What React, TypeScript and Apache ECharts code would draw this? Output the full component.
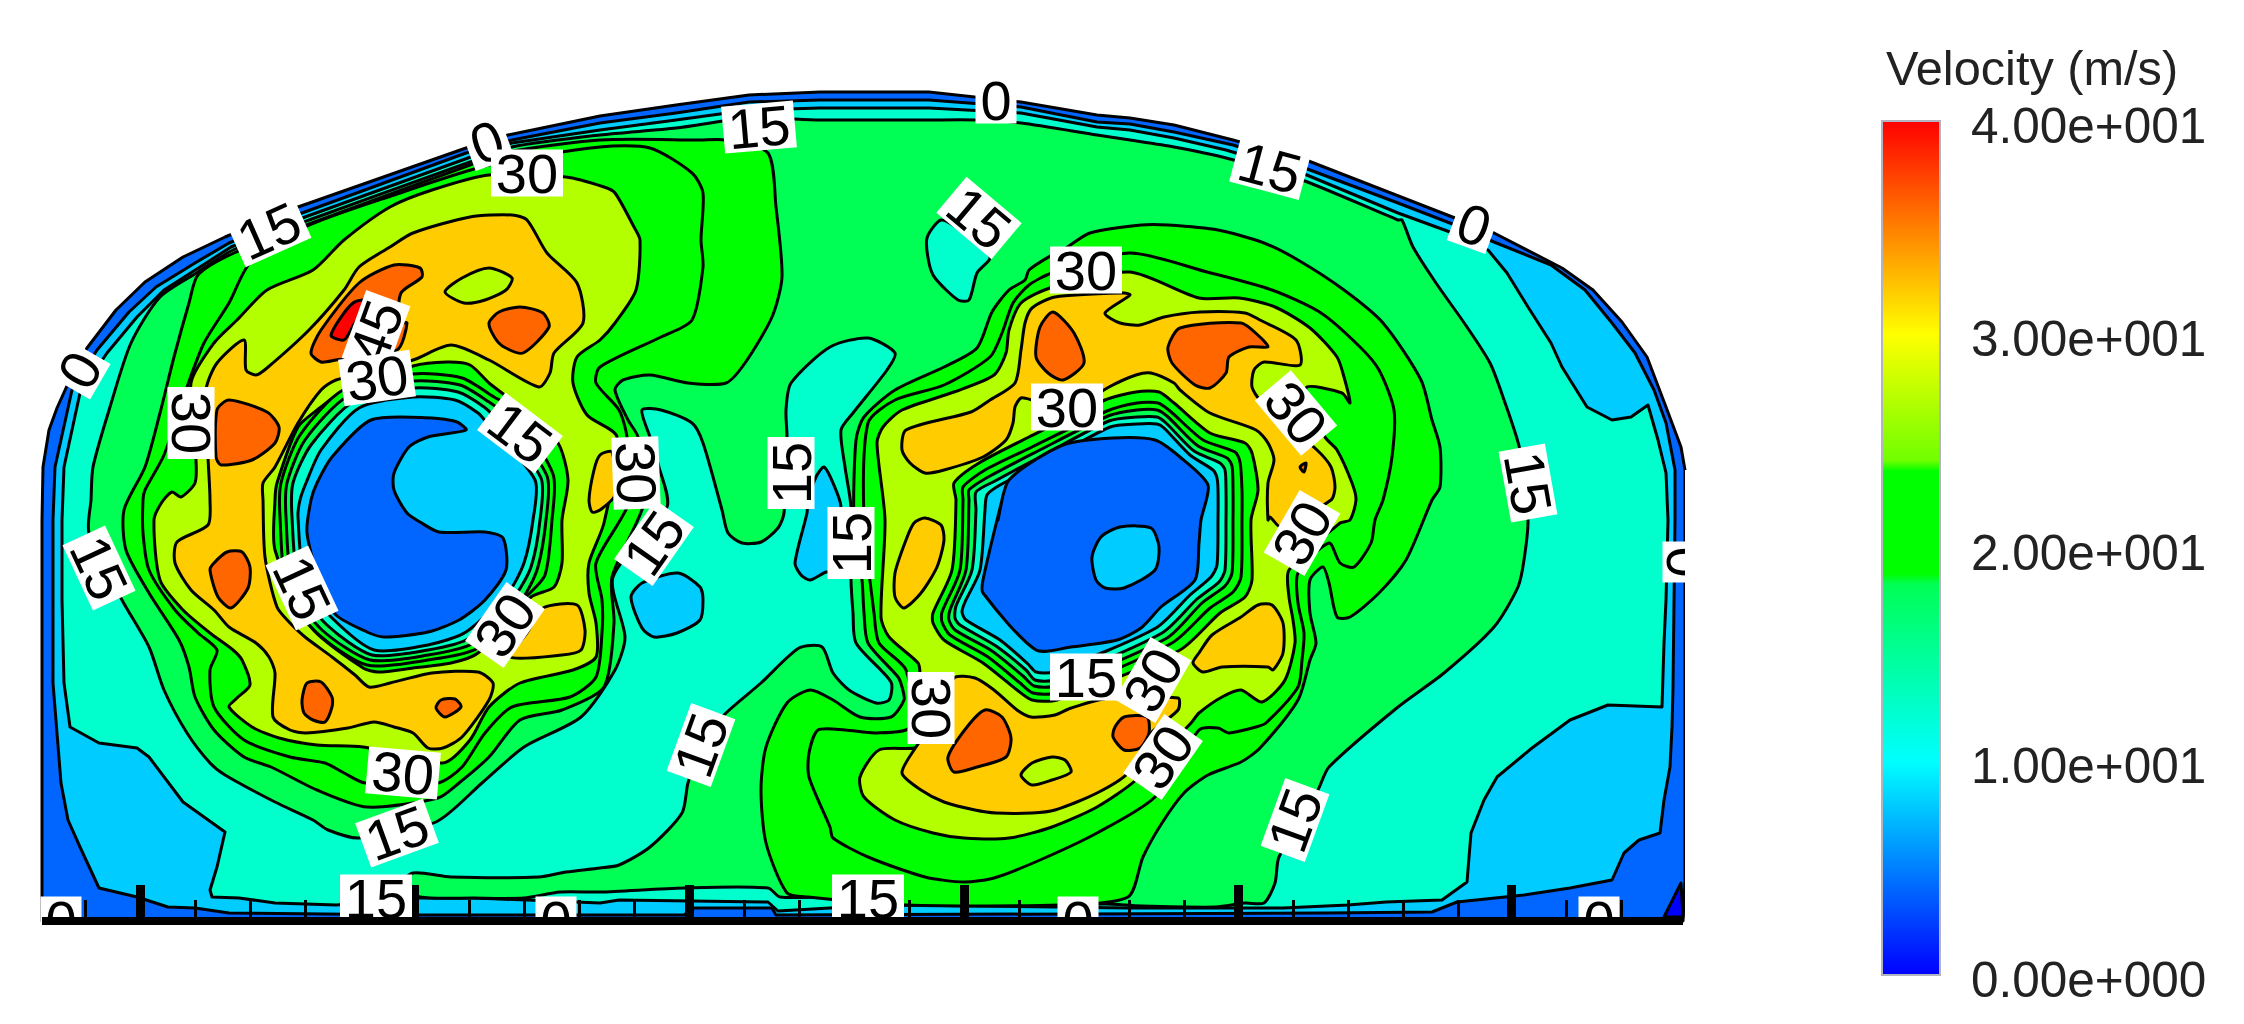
import React, { useEffect, useRef } from "react";
import * as echarts from "echarts";

type Pt = [number, number];

const bandColors = ["#0000ff", "#0066ff", "#00ccff", "#00ffcc", "#00ff55", "#00ff00", "#b3ff00", "#ffcc00", "#ff6600", "#ff0000"];

const domainOutline: Pt[] = [[42,921],[42,520],[43,467],[49,430],[57,408],[66,388],[87,348],[116,310],[145,282],[183,257],[225,237],[298,207],[466,148],[508,135],[600,116],[676,105],[749,95],[820,92],[929,92],[1021,102],[1097,115],[1130,118],[1174,125],[1233,140],[1306,160],[1455,218],[1494,233],[1562,268],[1593,290],[1622,322],[1647,357],[1666,407],[1681,447],[1685,470],[1685,882],[1683,921]];
const cornerPocket: Pt[] = [[1664,917],[1681,883],[1683,917]];
const level5: Pt[] = [[99,888],[80,847],[68,820],[61,783],[57,733],[53,683],[53,520],[55,467],[72,390],[97,350],[129,312],[156,287],[195,263],[229,243],[302,213],[466,153],[512,140],[600,123],[676,113],[749,102],[820,100],[929,100],[1021,107],[1097,122],[1130,124],[1174,132],[1233,145],[1302,167],[1398,203],[1455,225],[1494,242],[1551,265],[1585,290],[1612,323],[1635,353],[1654,390],[1666,423],[1675,470],[1675,520],[1673,687],[1672,727],[1670,767],[1664,800],[1660,833],[1639,840],[1624,853],[1612,880],[1570,888],[1524,895],[1457,902],[1432,912],[1327,913],[776,915],[772,908],[694,908],[684,915],[600,915],[420,915],[229,913],[195,908],[168,907],[137,897]];
const level10: Pt[] = [[212,897],[210,890],[217,867],[225,832],[183,802],[149,757],[137,748],[99,743],[70,727],[64,683],[62,600],[62,520],[64,467],[80,393],[107,353],[137,317],[164,290],[200,267],[231,247],[305,217],[468,158],[512,143],[600,130],[676,120],[749,110],[820,108],[929,108],[1021,113],[1097,127],[1130,130],[1174,138],[1226,150],[1302,173],[1398,213],[1450,232],[1488,250],[1507,273],[1528,307],[1551,343],[1562,367],[1587,407],[1612,420],[1631,417],[1648,405],[1658,440],[1666,473],[1668,520],[1666,600],[1664,643],[1662,707],[1608,705],[1570,720],[1532,748],[1497,777],[1484,800],[1471,833],[1467,882],[1442,900],[1386,902],[1348,905],[1283,908],[1130,908],[910,905],[830,908],[778,911],[768,902],[619,900],[600,903],[475,898],[418,898],[336,905],[275,903],[239,898]];
const level15: Pt[] = [[359,838],[328,830],[313,820],[275,802],[225,775],[210,763],[187,733],[164,690],[149,647],[122,600],[89,533],[91,500],[93,467],[110,407],[131,343],[160,297],[198,272],[233,250],[309,220],[470,162],[512,147],[600,135],[676,128],[749,118],[820,120],[929,120],[975,120],[1021,123],[1097,135],[1130,140],[1174,147],[1226,158],[1302,180],[1398,220],[1402,220],[1413,247],[1436,283],[1467,327],[1490,363],[1503,397],[1520,450],[1528,520],[1524,560],[1518,587],[1494,627],[1444,673],[1398,707],[1329,767],[1318,790],[1279,857],[1275,883],[1264,903],[1245,903],[1216,907],[1141,906],[1105,904],[1059,905],[910,904],[830,897],[780,897],[768,888],[684,888],[600,892],[560,892],[524,898],[474,898],[420,897],[400,885],[413,873],[451,877],[539,877],[566,872],[600,868],[619,865],[650,847],[682,813],[688,783],[703,740],[726,713],[761,683],[799,648],[822,647],[833,673],[849,690],[876,703],[889,700],[891,682],[856,643],[853,613],[851,580],[851,507],[845,467],[841,430],[853,413],[887,370],[895,353],[868,338],[830,347],[791,383],[786,410],[787,437],[784,513],[778,528],[761,542],[742,543],[728,533],[722,510],[703,443],[692,423],[661,410],[642,410],[650,437],[659,467],[667,507],[613,577],[625,637],[615,670],[581,717],[524,747],[482,783],[436,822]];
const tealPocket: Pt[] = [[941,220],[927,238],[929,263],[935,278],[958,300],[969,300],[977,273],[990,257],[960,230]];
const cyanPocketA: Pt[] = [[631,597],[642,583],[678,573],[700,587],[703,600],[700,620],[677,633],[654,637],[642,628]];
const cyanPocketB: Pt[] = [[824,467],[833,483],[841,507],[835,572],[826,572],[810,580],[801,575],[795,563],[807,513],[808,500],[816,477]];

const level20Left: Pt[] = [[367,807],[317,790],[271,767],[244,757],[214,730],[195,697],[189,667],[179,640],[149,593],[126,550],[124,510],[145,467],[160,413],[174,357],[189,303],[198,275],[234,253],[309,224],[470,165],[508,152],[600,140],[700,140],[726,140],[768,153],[776,207],[782,277],[772,317],[745,363],[726,383],[688,383],[650,375],[623,380],[615,390],[628,420],[638,437],[645,500],[612,577],[614,623],[604,687],[562,710],[520,720],[489,757],[459,783],[438,798]];
const level20Right: Pt[] = [[1052,255],[1029,270],[1025,280],[1009,290],[992,312],[977,348],[944,367],[895,390],[864,417],[856,440],[854,520],[862,580],[864,613],[868,643],[898,677],[902,687],[904,700],[891,717],[860,717],[833,700],[810,690],[787,703],[766,747],[761,790],[766,843],[787,893],[808,897],[906,905],[1059,905],[1128,897],[1143,857],[1162,823],[1184,793],[1208,775],[1241,762],[1260,748],[1298,700],[1310,660],[1316,643],[1310,613],[1310,580],[1323,567],[1329,583],[1337,617],[1350,617],[1379,593],[1406,560],[1432,500],[1440,487],[1440,447],[1432,420],[1421,380],[1383,323],[1344,290],[1298,260],[1264,243],[1218,230],[1168,225],[1141,225],[1090,233],[1063,250]];
const level25Left: Pt[] = [[365,783],[344,773],[325,763],[290,757],[244,740],[214,707],[210,670],[217,650],[198,633],[175,610],[149,570],[143,533],[143,500],[145,490],[164,455],[187,387],[204,343],[229,303],[250,263],[305,227],[394,195],[489,165],[600,147],[650,148],[692,173],[703,193],[701,240],[703,267],[692,320],[661,337],[600,367],[596,383],[619,410],[627,437],[630,500],[596,563],[602,600],[602,633],[596,677],[570,697],[512,707],[485,733],[462,767],[438,783]];
const level25Right: Pt[] = [[1052,273],[1029,285],[1013,303],[1002,333],[990,357],[944,385],[895,400],[868,423],[864,520],[874,613],[879,643],[906,670],[910,727],[876,733],[845,730],[818,730],[809,753],[809,777],[830,827],[833,838],[868,857],[925,877],[964,882],[994,878],[1040,860],[1097,833],[1155,797],[1199,730],[1218,728],[1229,733],[1256,727],[1266,723],[1298,687],[1302,660],[1304,633],[1298,603],[1298,573],[1329,543],[1340,563],[1354,567],[1371,543],[1375,520],[1383,500],[1392,457],[1394,410],[1379,370],[1360,347],[1321,313],[1272,290],[1207,272],[1130,253]];
const level30Left: Pt[] = [[363,747],[317,745],[279,738],[252,727],[229,707],[237,698],[250,685],[242,660],[233,650],[210,633],[183,610],[160,580],[154,520],[162,502],[172,492],[181,497],[195,483],[196,460],[191,383],[214,343],[237,320],[267,290],[313,270],[344,240],[390,207],[432,190],[489,175],[566,177],[604,187],[615,193],[634,227],[640,240],[636,290],[615,323],[600,340],[577,357],[573,383],[587,415],[617,437],[604,523],[589,563],[589,593],[596,623],[596,657],[573,670],[520,683],[489,707],[470,740],[443,763]];
const level30Right: Pt[] = [[1053,287],[1021,303],[1009,330],[1006,353],[994,375],[954,392],[902,410],[883,427],[877,443],[885,520],[881,617],[889,637],[918,663],[920,673],[923,745],[879,750],[860,777],[864,797],[895,820],[933,833],[964,838],[1009,838],[1052,827],[1097,807],[1136,780],[1191,723],[1199,713],[1222,697],[1241,690],[1262,702],[1285,680],[1295,643],[1293,620],[1289,597],[1289,570],[1340,523],[1350,520],[1356,500],[1352,483],[1337,450],[1325,437],[1306,388],[1342,393],[1350,403],[1344,377],[1337,357],[1310,328],[1275,307],[1239,298],[1199,298],[1130,272]];
const level35Left: Pt[] = [[206,390],[217,363],[244,340],[246,370],[256,375],[267,368],[309,330],[344,290],[359,267],[390,247],[413,233],[470,217],[512,215],[527,220],[547,253],[577,283],[583,323],[554,353],[550,373],[539,387],[489,360],[451,345],[413,360],[336,380],[321,390],[298,423],[275,467],[263,483],[263,500],[265,557],[277,607],[290,623],[305,637],[332,657],[355,675],[369,687],[390,683],[432,673],[478,672],[493,683],[489,700],[462,737],[443,748],[428,748],[413,733],[394,727],[374,722],[348,728],[306,733],[290,730],[273,717],[275,673],[269,657],[256,643],[229,627],[214,610],[191,590],[175,563],[177,542],[208,525],[210,500],[208,457]];
const level35LeftB: Pt[] = [[543,608],[577,605],[585,630],[581,650],[562,655],[510,657],[527,633]];
const level35LeftC: Pt[] = [[589,500],[594,470],[600,455],[612,452],[615,495],[600,510],[592,512]];
const level35RightTop: Pt[] = [[1055,297],[1032,308],[1025,323],[1021,350],[1015,383],[990,400],[971,412],[906,430],[902,450],[910,463],[925,473],[944,470],[983,457],[1006,440],[1013,423],[1015,407],[1021,398],[1032,400],[1070,410],[1109,387],[1136,375],[1151,373],[1174,383],[1180,390],[1210,413],[1256,430],[1268,443],[1274,460],[1268,483],[1268,520],[1270,517],[1281,527],[1331,500],[1335,487],[1331,467],[1317,450],[1260,400],[1252,387],[1254,370],[1264,362],[1300,365],[1296,340],[1260,320],[1245,313],[1200,312],[1164,317],[1140,325],[1120,323],[1105,313],[1130,295],[1124,293]];
const level35RightBottom: Pt[] = [[954,678],[975,678],[994,690],[1017,710],[1031,717],[1055,715],[1071,708],[1109,698],[1178,698],[1178,710],[1151,733],[1128,773],[1097,793],[1055,810],[1032,813],[996,813],[975,810],[944,802],[921,790],[902,773],[916,747],[935,720]];
const level35RightC: Pt[] = [[925,518],[941,525],[944,540],[937,567],[921,593],[904,608],[895,597],[895,573],[906,540],[914,523]];
const level35RightD: Pt[] = [[1258,605],[1272,605],[1283,623],[1283,653],[1273,670],[1268,667],[1222,667],[1203,672],[1193,663],[1199,653],[1212,635],[1241,617]];
const limeIslandLeft: Pt[] = [[445,292],[462,278],[489,268],[512,278],[506,290],[485,300],[464,303]];
const limeIslandRight: Pt[] = [[1021,775],[1032,763],[1052,757],[1065,760],[1071,772],[1052,780],[1032,785]];
const peakA: Pt[] = [[311,353],[321,330],[359,283],[394,265],[420,268],[422,277],[401,293],[399,323],[407,323],[397,350],[336,360],[321,362]];
const peakB: Pt[] = [[489,323],[499,312],[520,307],[543,313],[549,327],[523,353],[504,347],[495,338]];
const peakC: Pt[] = [[217,410],[229,400],[267,412],[279,427],[275,443],[252,460],[221,465],[216,457]];
const peakD: Pt[] = [[210,570],[214,563],[227,552],[242,552],[250,567],[248,588],[231,608],[218,597]];
const peakE: Pt[] = [[302,700],[307,683],[321,682],[332,697],[332,707],[325,722],[313,720],[304,713]];
const peakF: Pt[] = [[436,708],[441,700],[455,699],[461,707],[445,717]];
const peakG: Pt[] = [[1053,312],[1074,333],[1084,363],[1063,380],[1048,373],[1036,357],[1040,327]];
const peakH: Pt[] = [[1180,328],[1241,323],[1260,337],[1268,347],[1249,347],[1229,357],[1226,373],[1210,388],[1195,385],[1172,363],[1168,347]];
const peakI: Pt[] = [[985,710],[1002,717],[1011,738],[1006,757],[977,767],[954,772],[948,757],[967,727]];
const peakJ: Pt[] = [[1115,727],[1124,717],[1147,717],[1149,733],[1140,748],[1124,750],[1113,737]];
const peakK: Pt[] = [[1300,467],[1306,463],[1304,472]];
const summit: Pt[] = [[331,335],[353,303],[375,300],[355,323],[344,340]];

const holeLeft30: Pt[] = [[275,500],[277,483],[298,427],[321,407],[340,393],[413,366],[447,362],[470,365],[489,383],[524,410],[558,443],[568,480],[562,520],[562,563],[554,587],[531,597],[478,653],[451,663],[413,668],[378,672],[363,668],[311,627],[275,550]];
const holeLeft25: Pt[] = [[281,483],[300,435],[343,390],[413,374],[462,378],[494,397],[510,407],[553,474],[552,520],[545,575],[526,597],[478,648],[428,660],[367,665],[317,633],[287,592],[280,517]];
const holeLeft20: Pt[] = [[287,483],[305,440],[348,396],[413,381],[460,385],[489,402],[503,413],[547,476],[546,520],[537,570],[520,602],[474,643],[428,655],[370,660],[322,630],[293,590],[286,517]];
const holeLeft15: Pt[] = [[293,483],[311,445],[353,402],[413,388],[458,392],[484,407],[497,420],[541,478],[540,520],[531,567],[514,597],[470,638],[428,650],[372,655],[327,625],[299,586],[292,517]];
const holeLeft10: Pt[] = [[306,483],[321,450],[359,408],[413,397],[455,400],[478,413],[487,423],[535,480],[533,520],[524,563],[508,593],[466,632],[428,645],[374,650],[332,618],[305,583],[298,517],[300,500]];
const holeLeft5: Pt[] = [[371,420],[432,418],[457,422],[466,430],[428,437],[409,447],[394,473],[394,490],[407,513],[420,522],[439,532],[485,532],[503,538],[506,570],[485,600],[459,620],[428,632],[384,637],[367,632],[336,615],[321,587],[307,533],[311,500],[317,483],[332,457]];
const holeRight30: Pt[] = [[954,483],[979,463],[1029,437],[1105,400],[1136,392],[1159,392],[1174,403],[1210,433],[1245,443],[1252,453],[1258,490],[1251,520],[1252,580],[1245,597],[1220,613],[1180,650],[1057,700],[1032,700],[1017,690],[983,663],[944,640],[933,623],[933,613],[952,570],[956,500]];
const holeRight25: Pt[] = [[963,487],[985,470],[1032,447],[1107,411],[1137,403],[1158,403],[1170,411],[1203,440],[1235,452],[1240,462],[1242,490],[1242,520],[1241,577],[1233,592],[1210,608],[1172,643],[1056,693],[1033,693],[1020,683],[988,657],[950,635],[942,622],[942,612],[960,570],[963,500]];
const holeRight20: Pt[] = [[969,490],[990,476],[1036,452],[1108,416],[1137,410],[1157,410],[1168,417],[1198,446],[1227,458],[1232,466],[1233,490],[1233,520],[1232,573],[1225,586],[1202,603],[1167,638],[1055,686],[1034,686],[1023,676],[992,651],[955,630],[949,620],[950,610],[966,570],[969,500]];
const holeRight15: Pt[] = [[976,492],[995,481],[1040,457],[1109,421],[1137,417],[1157,417],[1166,423],[1194,451],[1220,463],[1225,470],[1226,490],[1226,520],[1225,570],[1219,582],[1197,599],[1162,633],[1054,680],[1035,680],[1026,670],[996,646],[960,625],[955,618],[956,606],[972,570],[976,510]];
const holeRight10: Pt[] = [[985,510],[987,495],[1000,485],[1045,462],[1110,427],[1137,424],[1157,424],[1164,428],[1190,455],[1213,470],[1217,478],[1218,490],[1218,520],[1217,565],[1211,577],[1190,595],[1156,628],[1053,672],[1036,672],[1028,664],[1000,640],[966,620],[962,612],[965,602],[980,570]];
const holeRight5: Pt[] = [[998,520],[1009,480],[1063,445],[1113,438],[1155,440],[1180,457],[1208,485],[1201,520],[1199,543],[1195,580],[1161,607],[1141,628],[1117,640],[1071,647],[1036,650],[983,593],[983,580],[1002,500]];
const coreIsland: Pt[] = [[1092,557],[1101,537],[1120,527],[1151,528],[1159,547],[1155,570],[1124,588],[1105,588],[1096,580]];

const layers: [Pt[], number][] = [
  [domainOutline, 1], [cornerPocket, 0], [level5, 2], [level10, 3], [level15, 4],
  [tealPocket, 3], [cyanPocketA, 2], [cyanPocketB, 2],
  [level20Left, 5], [level20Right, 5], [level25Left, 5], [level25Right, 5],
  [level30Left, 6], [level30Right, 6],
  [level35Left, 7], [level35LeftB, 7], [level35LeftC, 7], [level35RightTop, 7], [level35RightBottom, 7], [level35RightC, 7], [level35RightD, 7],
  [limeIslandLeft, 6], [limeIslandRight, 6],
  [peakA, 8], [peakB, 8], [peakC, 8], [peakD, 8], [peakE, 8], [peakF, 8], [peakG, 8], [peakH, 8], [peakI, 8], [peakJ, 8], [peakK, 8],
  [summit, 9],
  [holeLeft30, 5], [holeLeft25, 5], [holeLeft20, 4], [holeLeft15, 3], [holeLeft10, 2], [holeLeft5, 1],
  [holeRight30, 5], [holeRight25, 5], [holeRight20, 4], [holeRight15, 3], [holeRight10, 2], [holeRight5, 1], [coreIsland, 2],
];
const unroundedLayers = 4;

// text, x, y, clockwise turn in degrees
const contourLabels: [string, number, number, number][] = [
  ["0", 487, 142, -20], ["30", 527, 173, 0], ["15", 269, 231, -24], ["0", 80, 370, -60], ["30", 191, 423, 90],
  ["45", 376, 332, -70], ["30", 377, 378, -8], ["15", 520, 433, 37], ["15", 99, 568, 65], ["15", 302, 588, 65],
  ["30", 505, 625, -55], ["30", 403, 773, 5], ["15", 397, 833, -20], ["15", 376, 898, 0], ["0", 61, 920, 0],
  ["0", 556, 920, 0], ["15", 759, 127, -5], ["0", 996, 100, 0], ["15", 1270, 168, 15], ["0", 1474, 225, 20],
  ["15", 979, 218, 40], ["30", 1086, 270, 0], ["30", 1067, 407, 0], ["30", 1296, 413, 50], ["15", 1528, 483, 80],
  ["30", 1302, 533, -60], ["0", 1686, 562, 90], ["15", 851, 543, -90], ["15", 791, 473, -90], ["15", 654, 543, -55],
  ["30", 636, 473, 88], ["15", 701, 745, -70], ["30", 931, 708, 90], ["15", 868, 898, 0], ["0", 1078, 920, 0],
  ["15", 1086, 677, 0], ["30", 1153, 680, -60], ["30", 1163, 757, -55], ["15", 1295, 820, -70], ["0", 1599, 920, 0],
];

const majorTicks = [140, 414, 689, 964, 1238, 1511];
const minorTicks = [85, 195, 250, 305, 360, 469, 524, 579, 634, 744, 799, 854, 909, 1019, 1074, 1129, 1184, 1293, 1348, 1403, 1458, 1566, 1621];
const colorTickLabels = ["0.00e+000", "1.00e+001", "2.00e+001", "3.00e+001", "4.00e+001"];
const legendStops: [number, string][] = [
  [40, "#ff0000"], [35, "#ff8000"], [30, "#ffff00"], [24.1, "#70ff00"], [23.6, "#00ff00"],
  [18.8, "#00ff00"], [18.3, "#00ff55"], [10, "#00ffff"], [0, "#0000ff"],
];
const maskRects: [number, number, number, number][] = [[0, 925, 1800, 99], [1685, 470, 100, 455]];

const FONT = '"Liberation Sans", Arial, sans-serif';

export default function App() {
  const ref = useRef<HTMLDivElement>(null);
  useEffect(() => {
    document.body.style.margin = "0";
    document.body.style.background = "#fff";
    const chart = echarts.init(ref.current!, undefined, { renderer: "svg" });
    const hidden = { show: false };
    chart.setOption({
      animation: false,
      backgroundColor: "#ffffff",
      title: {
        text: "Velocity (m/s)",
        left: 1881,
        top: 38,
        textStyle: { fontFamily: FONT, fontSize: 48.7, fontWeight: "normal", color: "#222222" },
      },
      grid: [
        { left: 0, top: 0, width: 2244, height: 1024 },
        { left: 42, top: 500, width: 1641, height: 421 },
        { left: 1882, top: 121, width: 58, height: 854 },
        { left: 1882, top: 125, width: 58, height: 854 },
      ],
      xAxis: [
        { type: "value", gridIndex: 0, min: 0, max: 2244, ...hidden },
        {
          type: "value", gridIndex: 1, min: 42, max: 1683, position: "bottom", z: 3,
          axisLine: { show: false, onZero: false }, splitLine: hidden, axisLabel: hidden,
          axisTick: { show: true, inside: true, length: 36, customValues: majorTicks, lineStyle: { color: "#000", width: 9 } },
        },
        {
          type: "value", gridIndex: 1, min: 42, max: 1683, position: "bottom", z: 3,
          axisLine: { show: false, onZero: false }, splitLine: hidden, axisLabel: hidden,
          axisTick: { show: true, inside: true, length: 21, customValues: minorTicks, lineStyle: { color: "#000", width: 3 } },
        },
        {
          type: "value", gridIndex: 1, min: 42, max: 1683, position: "bottom", z: 8,
          axisLine: { show: true, onZero: false, lineStyle: { color: "#000", width: 8, cap: "butt" } },
          splitLine: hidden, axisLabel: hidden, axisTick: hidden,
        },
        { type: "value", gridIndex: 2, min: 0, max: 1, ...hidden },
        { type: "value", gridIndex: 3, min: 0, max: 1, ...hidden },
      ],
      yAxis: [
        { type: "value", gridIndex: 0, min: 0, max: 1024, inverse: true, ...hidden },
        { type: "value", gridIndex: 1, min: 0, max: 1, ...hidden },
        {
          type: "value", gridIndex: 2, min: 0, max: 40, interval: 10, position: "right",
          axisLine: hidden, splitLine: hidden, axisLabel: hidden,
          axisTick: { show: true, length: 11, lineStyle: { color: "#999999", width: 1.5 } },
        },
        {
          type: "value", gridIndex: 3, min: 0, max: 40, interval: 10, position: "right",
          axisLine: hidden, splitLine: hidden, axisTick: hidden,
          axisLabel: {
            show: true, margin: 31, fontFamily: FONT, fontSize: 49.5, color: "#222222",
            formatter: (v: number) => colorTickLabels[Math.round(v / 10)],
          },
        },
      ],
      series: [
        {
          type: "custom", xAxisIndex: 0, yAxisIndex: 0, z: 2, clip: false, silent: true,
          data: layers.map((_, i) => [i, 0]),
          renderItem: (params: any, api: any) => {
            const [pts, band] = layers[params.dataIndex];
            return {
              type: "polygon",
              shape: { points: pts.map((p) => api.coord(p)), smooth: params.dataIndex < unroundedLayers ? 0 : 0.25 },
              style: { fill: bandColors[band], stroke: "#000", lineWidth: 3, lineJoin: "round" },
            };
          },
        },
        {
          type: "custom", xAxisIndex: 0, yAxisIndex: 0, z: 4, clip: false, silent: true,
          data: contourLabels.map((l) => [l[1], l[2]]),
          renderItem: (params: any, api: any) => {
            const [text, , , turn] = contourLabels[params.dataIndex];
            const [x, y] = api.coord([api.value(0), api.value(1)]);
            const w = text.length * 31 + 10;
            const h = 47;
            return {
              type: "group", x, y, rotation: (-turn * Math.PI) / 180,
              children: [
                { type: "rect", shape: { x: -w / 2, y: -h / 2, width: w, height: h }, style: { fill: "#ffffff" } },
                { type: "text", style: { text, x: 0, y: 0, align: "center", verticalAlign: "middle", fontFamily: FONT, fontSize: 56, fill: "#000000" } },
              ],
            };
          },
        },
        {
          type: "custom", xAxisIndex: 0, yAxisIndex: 0, z: 5, clip: false, silent: true,
          data: maskRects.map((_, i) => [i, 0]),
          renderItem: (params: any, api: any) => {
            const [x, y, w, h] = maskRects[params.dataIndex];
            const a = api.coord([x, y]);
            const b = api.coord([x + w, y + h]);
            return { type: "rect", shape: { x: a[0], y: a[1], width: b[0] - a[0], height: b[1] - a[1] }, style: { fill: "#ffffff" } };
          },
        },
        {
          type: "custom", xAxisIndex: 4, yAxisIndex: 2, z: 2, clip: false, silent: true,
          data: [[0, 0]],
          renderItem: (_: any, api: any) => {
            const a = api.coord([0, 40]);
            const b = api.coord([1, 0]);
            return {
              type: "rect",
              shape: { x: a[0], y: a[1], width: b[0] - a[0], height: b[1] - a[1] },
              style: {
                fill: new echarts.graphic.LinearGradient(0, 0, 0, 1, legendStops.map(([v, color]) => ({ offset: (40 - v) / 40, color }))),
                stroke: "#b4b4c0", lineWidth: 2,
              },
            };
          },
        },
      ],
    });
    return () => chart.dispose();
  }, []);
  return <div ref={ref} style={{ width: 2244, height: 1024 }} />;
}
